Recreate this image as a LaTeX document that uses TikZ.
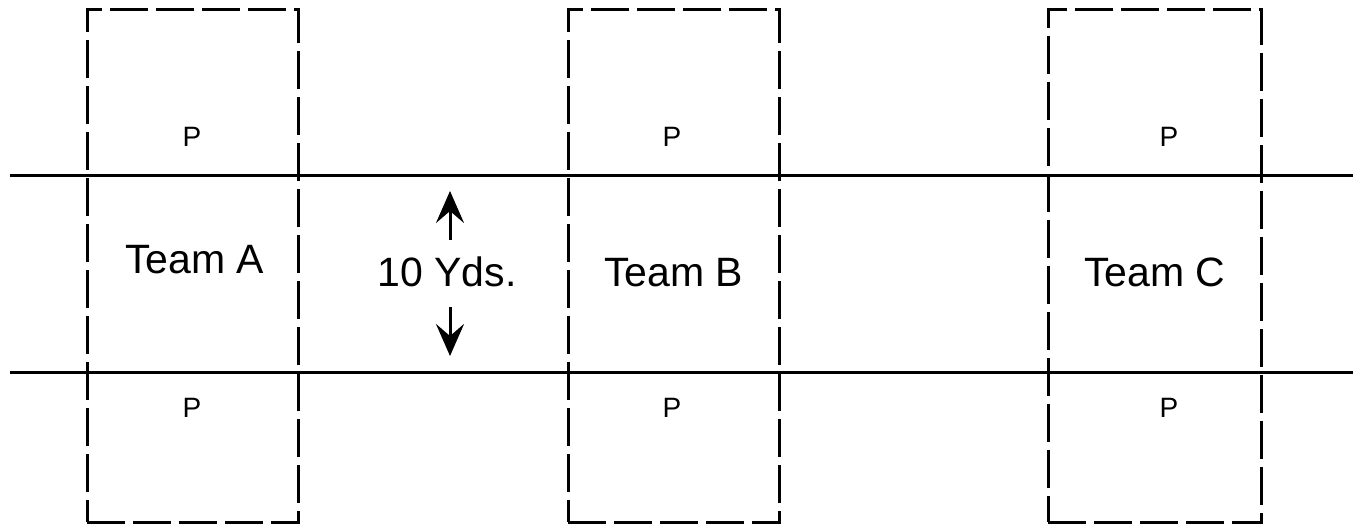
\documentclass[tikz,border=0pt]{standalone}
\usepackage{fontspec}
\setmainfont{Liberation Sans}
\usetikzlibrary{arrows.meta}
\begin{document}
\begin{tikzpicture}[x=1pt,y=-1pt,
  field/.style={draw=black, line width=3pt, dash pattern=on 38pt off 8pt, minimum width=211pt, minimum height=513pt, inner sep=0pt},
  yardline/.style={draw=black, line width=3pt},
  teamlabel/.style={inner sep=0pt, font=\fontsize{41}{41}\selectfont},
  plabel/.style={inner sep=0pt, font=\fontsize{28}{28}\selectfont},
  measure/.style={line width=3pt, -{Stealth[length=32pt, width=28pt, inset=12pt]}}
]
\useasboundingbox (0,0) rectangle (1353,525);
\fill[white] (0,0) rectangle (1353,525);
% horizontal lines
\coordinate (l1a) at (10,175);
\coordinate (l1b) at (1353,175);
\coordinate (l2a) at (10,372);
\coordinate (l2b) at (1353,372);
\draw[yardline] (l1a) -- (l1b);
\draw[yardline] (l2a) -- (l2b);
% boxes
\node[field] (boxA) at (192.5,265.5) {};
\node[field] (boxB) at (673.5,265.5) {};
\node[field, minimum width=213pt] (boxC) at (1154.5,265.5) {};
% labels
\node[teamlabel] (teamA) at (194.5,259.5) {Team A};
\node[teamlabel] (teamB) at (673.5,272.5) {Team B};
\node[teamlabel] (teamC) at (1155,272) {Team C};
\node[teamlabel] (yds) at (447,272) {10 Yds.};
\node[plabel] (pA1) at (192,137) {P};
\node[plabel] (pA2) at (192,407.5) {P};
\node[plabel] (pB1) at (672,137) {P};
\node[plabel] (pB2) at (672,407.5) {P};
\node[plabel] (pC1) at (1169,137) {P};
\node[plabel] (pC2) at (1169,407.5) {P};
% arrows
\coordinate (upbase) at (450,240);
\coordinate (uptip) at (450,191);
\coordinate (dnbase) at (450,307);
\coordinate (dntip) at (450,356);
\draw[measure] (upbase) -- (uptip);
\draw[measure] (dnbase) -- (dntip);
\end{tikzpicture}
\end{document}
